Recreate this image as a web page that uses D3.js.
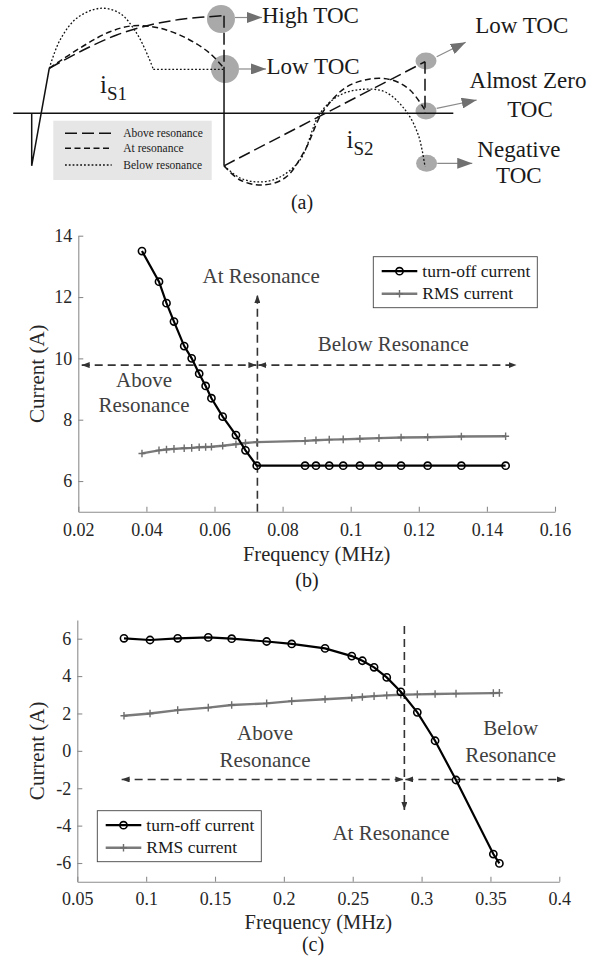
<!DOCTYPE html>
<html>
<head>
<meta charset="utf-8">
<script src="https://cdn.jsdelivr.net/npm/d3@7"></script>
<style>
body { margin: 0; background: #fff; }
svg { display: block; font-family: "Liberation Serif", "Times New Roman", serif; }
.axis path, .axis line { stroke: #8c8c8c; stroke-width: 1.1; }
.axis text { fill: #262626; font-size: 18px; font-family: "Liberation Serif", serif; }
</style>
</head>
<body>
<svg id="fig" width="603" height="967"></svg>
<script>
// ---------- (a) schematic waveforms: [time % of period, normalised current] ----------
var startSeg    = [[0, 0], [0, -0.5], [4.47, 0.429]];
var aboveFirst  = [[4.47, 0.429], [13.12, 0.603], [21.61, 0.746], [30.08, 0.841], [38.55, 0.898], [48.9, 0.93]];
var aboveDrop   = [[48.9, 0.93], [48.9, 0.419]];
var atFirst     = [[4.47, 0.429], [13.12, 0.641], [19.91, 0.777], [25.83, 0.834], [32.62, 0.81], [39.41, 0.714], [45.33, 0.571], [48.9, 0.429]];
var belowFirst  = [[4.47, 0.429], [7.2, 0.698], [11.44, 0.905], [17.37, 1.0], [22.45, 0.952], [26.7, 0.762], [29.65, 0.539], [30.92, 0.419]];
var belowFlat   = [[30.92, 0.419], [48.9, 0.419]];
var commonDrop  = [[48.9, 0.419], [48.9, -0.5]];
var aboveSecond = [[48.9, -0.5], [100, 0.491]];
var aboveEnd    = [[100, 0.491], [100, 0]];
var atSecond    = [[48.9, -0.5], [52.97, -0.635], [58.56, -0.683], [64.4, -0.616], [69.49, -0.35], [73.81, 0], [79.66, 0.241], [86.02, 0.327], [91.61, 0.317], [96.19, 0.222], [100, 0.03]];
var belowSecond = [[48.9, -0.5], [52.97, -0.616], [57.54, -0.654], [62.62, -0.616], [68.22, -0.445], [73.3, 0], [78.39, 0.174], [84.31, 0.229], [89.9, 0.203], [94.99, 0.031], [98.3, -0.207], [100, -0.509]];
var axisSpanA   = [-4.7, 107.2];
var legendA     = ["Above resonance", "At resonance", "Below resonance"];
var tocPoints   = [[48.13, 0.898], [49.15, 0.422], [100.25, 0.498], [100.25, 0.022], [100.4, -0.476]];
var tocLabels   = [["High TOC"], ["Low TOC"], ["Low TOC"], ["Almost Zero", "TOC"], ["Negative", "TOC"]];

// ---------- (b) ----------
var freqB = [0.0387, 0.0437, 0.0459, 0.0481, 0.0511, 0.0533, 0.0555, 0.0574, 0.0591, 0.0624, 0.0663, 0.0691, 0.0724,
             0.0866, 0.0898, 0.0937, 0.0978, 0.1027, 0.1083, 0.1148, 0.1226, 0.1325, 0.1455];
var toffB = [13.5, 12.5, 11.8, 11.2, 10.4, 10.0, 9.5, 9.1, 8.7, 8.1, 7.5, 7.0, 6.5,
             6.5, 6.5, 6.5, 6.5, 6.5, 6.5, 6.5, 6.5, 6.5, 6.5];
var rmsB  = [6.90, 7.00, 7.03, 7.05, 7.07, 7.08, 7.10, 7.11, 7.12, 7.15, 7.20, 7.24, 7.27,
             7.31, 7.33, 7.35, 7.36, 7.38, 7.40, 7.42, 7.43, 7.45, 7.46];
var xTicksB = [0.02, 0.04, 0.06, 0.08, 0.1, 0.12, 0.14, 0.16];
var xTickLabelsB = ["0.02", "0.04", "0.06", "0.08", "0.1", "0.12", "0.14", "0.16"];
var yTicksB = [6, 8, 10, 12, 14];
var yTickLabelsB = ["6", "8", "10", "12", "14"];

// ---------- (c) ----------
var freqC = [0.0839, 0.1028, 0.1229, 0.1451, 0.1621, 0.1875, 0.2057, 0.2299, 0.2493, 0.2570, 0.2655, 0.2747,
             0.2849, 0.2969, 0.3098, 0.3250, 0.3521, 0.3565];
var toffC = [6.02, 5.93, 6.02, 6.07, 6.0, 5.85, 5.72, 5.48, 5.07, 4.82, 4.47, 3.93, 3.16, 2.06, 0.54, -1.56, -5.52, -6.02];
var rmsC  = [1.88, 2.0, 2.18, 2.31, 2.45, 2.54, 2.66, 2.76, 2.84, 2.88, 2.93, 2.97, 3.0, 3.02, 3.04, 3.06, 3.09, 3.1];
var xTicksC = [0.05, 0.1, 0.15, 0.2, 0.25, 0.3, 0.35, 0.4];
var xTickLabelsC = ["0.05", "0.1", "0.15", "0.2", "0.25", "0.3", "0.35", "0.4"];
var yTicksC = [-6, -4, -2, 0, 2, 4, 6];
var yTickLabelsC = ["-6", "-4", "-2", "0", "2", "4", "6"];

var seriesNames = ["turn-off current", "RMS current"];

var svg = d3.select("#fig");

// arrowheads
var defs = svg.append("defs");
defs.append("marker").attr("id", "arr")
    .attr("viewBox", "0 0 8 6").attr("refX", 8).attr("refY", 3)
    .attr("markerWidth", 8).attr("markerHeight", 6)
    .attr("markerUnits", "userSpaceOnUse").attr("orient", "auto-start-reverse")
  .append("path").attr("d", "M0,0L8,3L0,6z").attr("fill", "#333");
defs.append("marker").attr("id", "arrA")
    .attr("viewBox", "0 0 15 11").attr("refX", 15).attr("refY", 5.5)
    .attr("markerWidth", 15).attr("markerHeight", 11)
    .attr("markerUnits", "userSpaceOnUse").attr("orient", "auto")
  .append("path").attr("d", "M0,0L15,5.5L0,11z").attr("fill", "#707070");

// ================= (a) =================
var xA = d3.scaleLinear().domain([0, 100]).range([31.7, 425]);
var yA = d3.scaleLinear().domain([-1, 1]).range([218.3, 8.3]);
var gA = svg.append("g");

var lineA = d3.line().x(function(d) { return xA(d[0]); }).y(function(d) { return yA(d[1]); });
var curveA = d3.line().x(function(d) { return xA(d[0]); }).y(function(d) { return yA(d[1]); })
    .curve(d3.curveCatmullRom.alpha(0.5));

var dashAbove = "12,5", dashAt = "6,3.5", dashBelow = "1.8,2";

// TOC circles (behind the traces)
gA.selectAll(".toc").data(tocPoints).enter().append("ellipse")
  .attr("cx", function(d) { return xA(d[0]); })
  .attr("cy", function(d) { return yA(d[1]); })
  .attr("rx", function(d, i) { return i < 2 ? 14 : 10.5; })
  .attr("ry", function(d, i) { return i < 2 ? 14 : 8.5; })
  .attr("fill", "#a9a9a9");

gA.append("line")
  .attr("x1", xA(axisSpanA[0])).attr("x2", xA(axisSpanA[1]))
  .attr("y1", yA(0)).attr("y2", yA(0))
  .attr("stroke", "#111").attr("stroke-width", 1.4);

function traceA(pts, dash, curved) {
  gA.append("path").datum(pts)
    .attr("d", curved ? curveA : lineA)
    .attr("fill", "none").attr("stroke", "#111")
    .attr("stroke-width", dash === dashBelow ? 1.3 : 1.5)
    .attr("stroke-dasharray", dash);
}
traceA(startSeg, null, false);
traceA(commonDrop, null, false);
traceA(aboveFirst, dashAbove, true);
traceA(aboveDrop, dashAbove, false);
traceA(atFirst, dashAt, true);
traceA(belowFirst, dashBelow, true);
traceA(belowFlat, dashBelow, false);
traceA(aboveSecond, dashAbove, false);
traceA(aboveEnd, dashAbove, false);
traceA(atSecond, dashAt, true);
traceA(belowSecond, dashBelow, true);

// TOC arrows and labels
var arrowOff = [[[14, -1.5], [41, -1.5]], [[14, 0], [41, 0]], [[10.7, -4.3], [39.7, -18.7]], [[10.7, -2.7], [50.7, -11]], [[10.7, 0], [45.7, 0]]];
var textOff = [[[41, 4]], [[41.5, 5]], [[95.7, -27.7]], [[102, -22.7], [104, 5.7]], [[92.3, -6.6], [92.3, 20]]];
tocPoints.forEach(function(p, k) {
  var cx = xA(p[0]), cy = yA(p[1]);
  gA.append("line")
    .attr("x1", cx + arrowOff[k][0][0]).attr("y1", cy + arrowOff[k][0][1])
    .attr("x2", cx + arrowOff[k][1][0]).attr("y2", cy + arrowOff[k][1][1])
    .attr("stroke", "#8a8a8a").attr("stroke-width", 1.2)
    .attr("marker-end", "url(#arrA)");
  tocLabels[k].forEach(function(t, j) {
    gA.append("text")
      .attr("x", cx + textOff[k][j][0]).attr("y", cy + textOff[k][j][1])
      .attr("text-anchor", k < 2 ? "start" : "middle")
      .style("font-size", "23px").attr("fill", "#1a1a1a")
      .text(t);
  });
});

// i_S1, i_S2
[["S1", 100, 93.3], ["S2", 346.5, 148.3]].forEach(function(l) {
  var t = gA.append("text").attr("x", l[1]).attr("y", l[2]).attr("fill", "#1a1a1a");
  t.append("tspan").style("font-size", "25px").text("i");
  t.append("tspan").attr("dy", 6.5).style("font-size", "19px").text(l[0]);
});

// legend (a)
var legA = gA.append("g").attr("transform", "translate(53.3,120.7)");
legA.append("rect").attr("width", 158.4).attr("height", 59.3).attr("fill", "#e6e6e6");
[dashAbove, dashAt, dashBelow].forEach(function(dash, k) {
  var yy = [12.6, 27.6, 44.3][k];
  legA.append("line").attr("x1", 11.7).attr("x2", 58.4).attr("y1", yy).attr("y2", yy)
    .attr("stroke", "#111").attr("stroke-width", dash === dashBelow ? 1.3 : 1.5)
    .attr("stroke-dasharray", dash);
  legA.append("text").attr("x", 70).attr("y", yy + 4)
    .style("font-size", "11.5px").attr("fill", "#1a1a1a").text(legendA[k]);
});

svg.append("text").attr("x", 302).attr("y", 209).attr("text-anchor", "middle")
  .style("font-size", "20px").attr("fill", "#1a1a1a").text("(a)");

// ================= (b) and (c) =================
function drawPanel(p) {
  var g = svg.append("g");
  var x = d3.scaleLinear().domain(p.xDomain).range(p.xRange);
  var y = d3.scaleLinear().domain(p.yDomain).range(p.yRange);

  g.append("g").attr("class", "axis")
    .attr("transform", "translate(0," + p.yRange[0] + ")")
    .call(d3.axisBottom(x).tickValues(p.xTicks)
      .tickFormat(function(d, i) { return p.xTickLabels[i]; })
      .tickSizeInner(-5).tickSizeOuter(0).tickPadding(p.xPad));

  g.append("g").attr("class", "axis")
    .attr("transform", "translate(" + p.xRange[0] + ",0)")
    .call(d3.axisLeft(y).tickValues(p.yTicks)
      .tickFormat(function(d, i) { return p.yTickLabels[i]; })
      .tickSizeInner(-5).tickSizeOuter(0).tickPadding(6));

  g.selectAll(".axis .domain").attr("stroke", "#8c8c8c");

  // axis titles
  g.append("text")
    .attr("transform", "translate(44," + d3.mean(p.yRange) + ") rotate(-90)")
    .attr("text-anchor", "middle").style("font-size", "21px").attr("fill", "#262626")
    .text("Current (A)");
  g.append("text")
    .attr("x", d3.mean(p.xRange)).attr("y", p.xLabelY)
    .attr("text-anchor", "middle").style("font-size", "20.5px").attr("fill", "#262626")
    .text("Frequency (MHz)");
  g.append("text")
    .attr("x", p.tagX).attr("y", p.tagY)
    .attr("text-anchor", "middle").style("font-size", "20px").attr("fill", "#1a1a1a")
    .text(p.tag);

  // resonance annotations
  var ann = g.append("g").attr("fill", "none").attr("stroke", "#333")
    .attr("stroke-width", 1.6).attr("stroke-dasharray", "8,5");
  ann.append("line")
    .attr("x1", x(p.res.f)).attr("x2", x(p.res.f))
    .attr("y1", y(p.res.from)).attr("y2", y(p.res.to))
    .attr("marker-end", "url(#arr)");
  ann.append("line")
    .attr("x1", x(p.res.left)).attr("x2", x(p.res.f) - 1)
    .attr("y1", y(p.res.level)).attr("y2", y(p.res.level))
    .attr("marker-start", "url(#arr)").attr("marker-end", "url(#arr)");
  ann.append("line")
    .attr("x1", x(p.res.f) + 1).attr("x2", x(p.res.right))
    .attr("y1", y(p.res.level)).attr("y2", y(p.res.level))
    .attr("marker-start", "url(#arr)").attr("marker-end", "url(#arr)");

  p.notes.forEach(function(n) {
    var t = g.append("text").attr("text-anchor", "middle")
      .style("font-size", "21px").attr("fill", "#404040");
    n.lines.forEach(function(s, j) {
      t.append("tspan").attr("x", x(n.f)).attr("y", y(n.at[j])).text(s);
    });
  });

  var line = d3.line()
    .x(function(d) { return x(d[0]); })
    .y(function(d) { return y(d[1]); });

  var rms = d3.zip(p.freq, p.rms);
  var toff = d3.zip(p.freq, p.toff);

  g.append("path").datum(rms).attr("d", line)
    .attr("fill", "none").attr("stroke", "#7a7a7a").attr("stroke-width", 2.4);
  g.selectAll(".plus").data(rms).enter().append("path")
    .attr("transform", function(d) { return "translate(" + x(d[0]) + "," + y(d[1]) + ")"; })
    .attr("d", "M-3.5,0H3.5M0,-3.8V3.8")
    .attr("stroke", "#6e6e6e").attr("stroke-width", 1.4);

  g.append("path").datum(toff).attr("d", line)
    .attr("fill", "none").attr("stroke", "#000").attr("stroke-width", 2.2);
  g.selectAll(".circ").data(toff).enter().append("circle")
    .attr("cx", function(d) { return x(d[0]); })
    .attr("cy", function(d) { return y(d[1]); })
    .attr("r", 3.6).attr("fill", "none").attr("stroke", "#000").attr("stroke-width", 1.6);

  // legend
  var leg = g.append("g").attr("transform", "translate(" + p.legend[0] + "," + p.legend[1] + ")");
  leg.append("rect").attr("width", 164).attr("height", 51)
    .attr("fill", "#fff").attr("stroke", "#444").attr("stroke-width", 0.9);
  seriesNames.forEach(function(name, k) {
    var yy = k === 0 ? 14.5 : 37;
    leg.append("line").attr("x1", 8.4).attr("x2", 44).attr("y1", yy).attr("y2", yy)
      .attr("stroke", k === 0 ? "#000" : "#7a7a7a").attr("stroke-width", k === 0 ? 2.2 : 2.4);
    if (k === 0) {
      leg.append("circle").attr("cx", 26.2).attr("cy", yy).attr("r", 3.6)
        .attr("fill", "none").attr("stroke", "#000").attr("stroke-width", 1.6);
    } else {
      leg.append("path").attr("transform", "translate(26.2," + yy + ")")
        .attr("d", "M-3.5,0H3.5M0,-3.8V3.8").attr("stroke", "#6e6e6e").attr("stroke-width", 1.4);
    }
    leg.append("text").attr("x", 49).attr("y", yy).attr("dy", "0.33em")
      .style("font-size", "17.5px").attr("fill", "#1a1a1a").text(name);
  });
}

drawPanel({
  xDomain: [0.02, 0.16], xRange: [78.3, 555],
  yDomain: [5, 14], yRange: [511.7, 235.7],
  xTicks: xTicksB, xTickLabels: xTickLabelsB, yTicks: yTicksB, yTickLabels: yTickLabelsB,
  xPad: 11.5, xLabelY: 560.7, tag: "(b)", tagX: 307, tagY: 587,
  freq: freqB, toff: toffB, rms: rmsB,
  res: { f: 0.0726, from: 5, to: 12.07, level: 9.78, left: 0.021, right: 0.1487 },
  notes: [
    { f: 0.0737, lines: ["At Resonance"], at: [12.45] },
    { f: 0.0393, lines: ["Above", "Resonance"], at: [9.08, 8.26] },
    { f: 0.1125, lines: ["Below Resonance"], at: [10.24] }
  ],
  legend: [373.3, 256.7]
});

drawPanel({
  xDomain: [0.05, 0.4], xRange: [77.3, 559.3],
  yDomain: [-7, 7], yRange: [881.7, 620],
  xTicks: xTicksC, xTickLabels: xTickLabelsC, yTicks: yTicksC, yTickLabels: yTickLabelsC,
  xPad: 11, xLabelY: 928.6, tag: "(c)", tagX: 313, tagY: 951,
  freq: freqC, toff: toffC, rms: rmsC,
  res: { f: 0.2875, from: 6.68, to: -3.17, level: -1.53, left: 0.0822, right: 0.404 },
  notes: [
    { f: 0.2778, lines: ["At Resonance"], at: [-4.77] },
    { f: 0.1863, lines: ["Above", "Resonance"], at: [0.58, -0.85] },
    { f: 0.3647, lines: ["Below", "Resonance"], at: [0.85, -0.62] }
  ],
  legend: [97.3, 810.7]
});
</script>
</body>
</html>
